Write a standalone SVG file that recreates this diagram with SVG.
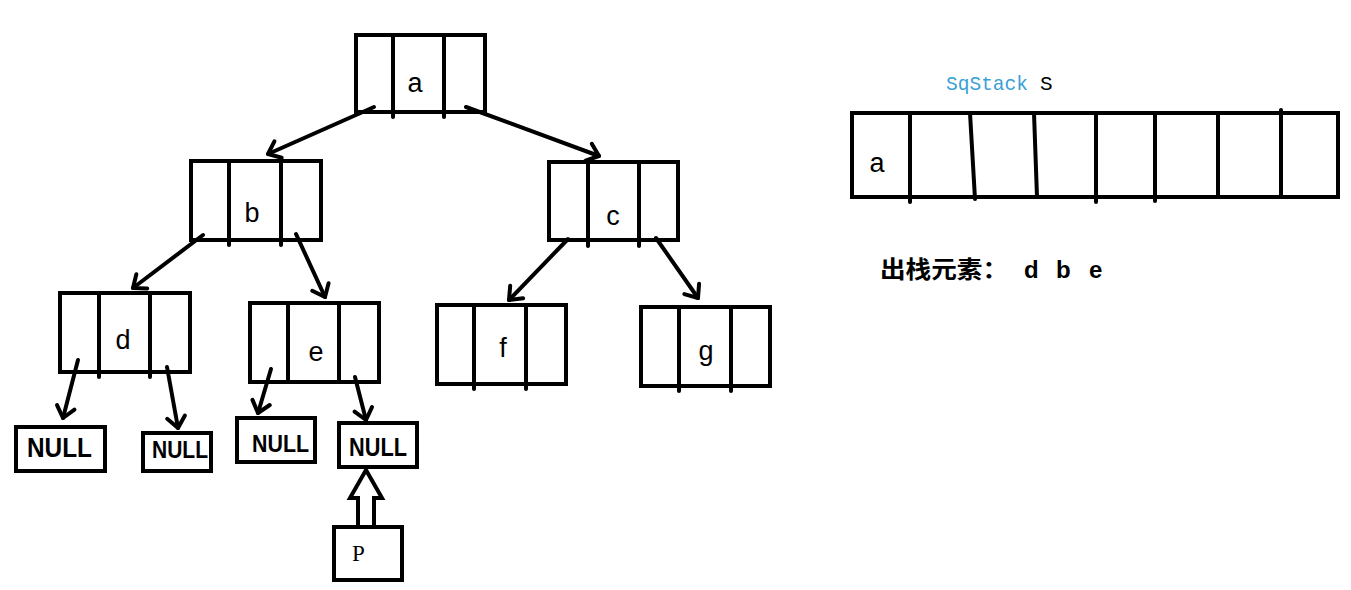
<svg xmlns="http://www.w3.org/2000/svg" width="1351" height="590" viewBox="0 0 1351 590">
<style>
.box{fill:#fff;stroke:#000;stroke-width:4}
.div{stroke:#000;stroke-width:4;stroke-linecap:round}
.lbl{font-family:"Liberation Sans",Arial,sans-serif;font-size:27px;fill:#000;text-anchor:middle}
.null{font-family:"Liberation Sans",Arial,sans-serif;font-weight:bold;fill:#000}
.con{stroke:#000;stroke-width:4;stroke-linecap:round;fill:none}
.mono{font-family:"Liberation Mono","Courier New",monospace;font-size:21px}
</style>
<defs>
<marker id="ah" markerUnits="userSpaceOnUse" markerWidth="30" markerHeight="30" viewBox="-15 -15 30 30" refX="0" refY="0" orient="auto">
<path d="M -11 -9 L 0 0 L -11 9" fill="none" stroke="#000" stroke-width="4" stroke-linecap="round" stroke-linejoin="round"/>
</marker>
</defs>
<rect width="1351" height="590" fill="#fff"/>

<g id="node-a">
<rect class="box" x="356" y="35" width="129" height="77"/>
<line class="div" x1="393" y1="35" x2="393" y2="117"/>
<line class="div" x1="444" y1="35" x2="444" y2="117"/>
<text class="lbl" x="415" y="92">a</text>
</g>
<g id="node-b">
<rect class="box" x="191" y="161" width="130" height="79"/>
<line class="div" x1="229" y1="161" x2="229" y2="245"/>
<line class="div" x1="281" y1="161" x2="281" y2="245"/>
<text class="lbl" x="252" y="222">b</text>
</g>
<g id="node-c">
<rect class="box" x="549" y="162" width="129" height="78"/>
<line class="div" x1="588" y1="162" x2="588" y2="246"/>
<line class="div" x1="639" y1="162" x2="639" y2="246"/>
<text class="lbl" x="613" y="225">c</text>
</g>
<g id="node-d">
<rect class="box" x="60" y="293" width="130" height="79"/>
<line class="div" x1="99" y1="293" x2="99" y2="377"/>
<line class="div" x1="150" y1="293" x2="150" y2="377"/>
<text class="lbl" x="123" y="349">d</text>
</g>
<g id="node-e">
<rect class="box" x="250" y="303" width="129" height="79"/>
<line class="div" x1="288" y1="303" x2="288" y2="382"/>
<line class="div" x1="339" y1="303" x2="339" y2="382"/>
<text class="lbl" x="316" y="361">e</text>
</g>
<g id="node-f">
<rect class="box" x="437" y="305" width="129" height="79"/>
<line class="div" x1="474" y1="305" x2="474" y2="389"/>
<line class="div" x1="526" y1="305" x2="526" y2="389"/>
<text class="lbl" x="503" y="357">f</text>
</g>
<g id="node-g">
<rect class="box" x="641" y="307" width="129" height="79"/>
<line class="div" x1="679" y1="307" x2="679" y2="391"/>
<line class="div" x1="731" y1="307" x2="731" y2="391"/>
<text class="lbl" x="706" y="360">g</text>
</g>

<g id="null-d-left">
<rect class="box" x="16" y="427" width="89" height="44"/>
<text class="null" x="27" y="457" font-size="27" textLength="65" lengthAdjust="spacingAndGlyphs">NULL</text>
</g>
<g id="null-d-right">
<rect class="box" x="143" y="433" width="68" height="38"/>
<text class="null" x="152" y="458" font-size="23" textLength="56" lengthAdjust="spacingAndGlyphs">NULL</text>
</g>
<g id="null-e-left">
<rect class="box" x="237" y="418" width="78" height="44"/>
<text class="null" x="252" y="452" font-size="24" textLength="57" lengthAdjust="spacingAndGlyphs">NULL</text>
</g>
<g id="null-e-right">
<rect class="box" x="339" y="423" width="78" height="44"/>
<text class="null" x="349" y="456" font-size="25" textLength="58" lengthAdjust="spacingAndGlyphs">NULL</text>
</g>
<g id="node-p">
<rect class="box" x="334" y="527" width="68" height="53"/>
<text x="352" y="561" font-family="'Liberation Serif','Times New Roman',serif" font-size="23" fill="#000">P</text>
</g>

<g id="stack">
<rect class="box" x="852" y="113" width="486" height="84"/>
<line class="div" x1="910" y1="113" x2="910" y2="202"/>
<line class="div" x1="970" y1="113" x2="975" y2="199"/>
<line class="div" x1="1034" y1="113" x2="1037" y2="197"/>
<line class="div" x1="1096" y1="113" x2="1096" y2="202"/>
<line class="div" x1="1155" y1="113" x2="1155" y2="201"/>
<line class="div" x1="1218" y1="113" x2="1218" y2="197"/>
<line class="div" x1="1281" y1="110" x2="1281" y2="197"/>
<text class="lbl" x="877" y="172">a</text>
<text class="mono" x="946" y="90" fill="#3a9fd5" textLength="82" lengthAdjust="spacingAndGlyphs">SqStack</text>
<text class="mono" x="1040" y="90" fill="#000">S</text>
</g>

<g id="pop-label" font-family="'Liberation Sans',Arial,'Noto Sans CJK SC',sans-serif" font-weight="bold" font-size="24" fill="#000">
<text x="880" y="278" textLength="128" lengthAdjust="spacingAndGlyphs">出栈元素：</text>
<text x="1024" y="278">d</text>
<text x="1056" y="278">b</text>
<text x="1089" y="278">e</text>
</g>

<g id="connectors">
<path class="con" marker-end="url(#ah)" d="M 374 107 L 268 154"/>
<path class="con" marker-end="url(#ah)" d="M 466 107 L 599 156"/>
<path class="con" marker-end="url(#ah)" d="M 203 235 L 133 288"/>
<path class="con" marker-end="url(#ah)" d="M 296 234 L 325 297"/>
<path class="con" marker-end="url(#ah)" d="M 568 239 L 509 300"/>
<path class="con" marker-end="url(#ah)" d="M 656 238 L 698 298"/>
<path class="con" marker-end="url(#ah)" d="M 78 360 L 63 418"/>
<path class="con" marker-end="url(#ah)" d="M 167 367 L 178 428"/>
<path class="con" marker-end="url(#ah)" d="M 271 369 L 258 413"/>
<path class="con" marker-end="url(#ah)" d="M 355 377 L 366 420"/>
<path d="M 366 470 L 382 498 L 374 498 L 374 527 L 358 527 L 358 498 L 350 498 Z" fill="#fff" stroke="#000" stroke-width="4" stroke-linejoin="miter"/>
</g>
</svg>
